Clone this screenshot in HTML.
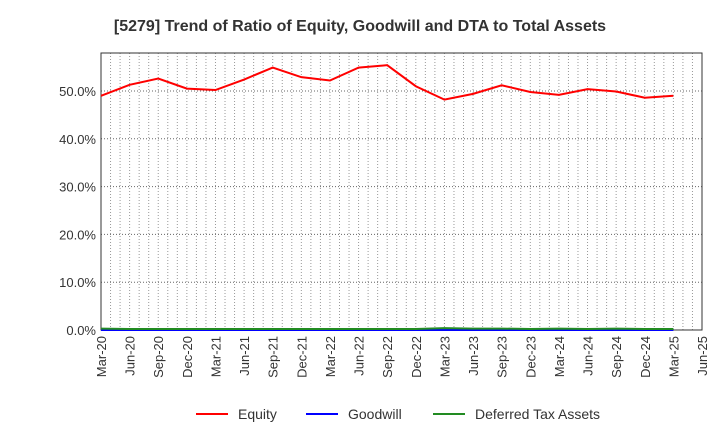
<!DOCTYPE html>
<html><head><meta charset="utf-8"><style>
body{margin:0;background:#fff;font-family:"Liberation Sans",sans-serif}
</style></head><body>
<svg id="c" width="720" height="440" xmlns="http://www.w3.org/2000/svg" font-family="Liberation Sans, sans-serif">
<text x="360" y="31" text-anchor="middle" font-size="16" font-weight="bold" fill="#333">[5279]  Trend of Ratio of Equity, Goodwill and DTA to Total Assets</text>
<g id="grid"></g><g id="axes"></g><g id="series"></g>
<g font-size="14" fill="#333">
<line x1="196" y1="414" x2="228" y2="414" stroke="#f00" stroke-width="2"/><text x="238" y="419">Equity</text>
<line x1="306" y1="414" x2="338" y2="414" stroke="#00f" stroke-width="2"/><text x="348" y="419">Goodwill</text>
<line x1="433" y1="414" x2="465" y2="414" stroke="#228b22" stroke-width="2"/><text x="475" y="419">Deferred Tax Assets</text>
</g>
</svg>
<script>
const categories=["Mar-20","Jun-20","Sep-20","Dec-20","Mar-21","Jun-21","Sep-21","Dec-21","Mar-22","Jun-22","Sep-22","Dec-22","Mar-23","Jun-23","Sep-23","Dec-23","Mar-24","Jun-24","Sep-24","Dec-24","Mar-25","Jun-25"];
const equity=[49.0,51.3,52.6,50.5,50.2,52.4,54.9,52.9,52.2,54.9,55.4,51.0,48.2,49.4,51.2,49.8,49.2,50.4,49.9,48.6,49.0];
const goodwill=[0,0,0,0,0,0,0,0,0,0,0,0,0,0,0,0,0,0,0,0,0];
const dta=[0.3,0.2,0.2,0.2,0.2,0.2,0.2,0.2,0.2,0.2,0.2,0.2,0.4,0.3,0.3,0.2,0.3,0.2,0.3,0.2,0.2];
const yTicks=[0,10,20,30,40,50];
const L=101,R=702,T=53,B=330;
const x=i=>L+i*(R-L)/(categories.length-1);
const y=v=>B-v*(B-91)/50;
const NS="http://www.w3.org/2000/svg";
function mk(t,a,p){const e=document.createElementNS(NS,t);for(const k in a)e.setAttribute(k,a[k]);p.appendChild(e);return e;}
const g=document.getElementById('grid'),ax=document.getElementById('axes'),s=document.getElementById('series');
for(let m=1;m<(categories.length-1)*3;m++){const xx=L+m*(R-L)/((categories.length-1)*3);
const ln=mk('line',{x1:xx,x2:xx,y1:T,y2:B,stroke:'#999','stroke-dasharray':'1,2','stroke-width':1},g);

}
yTicks.forEach(v=>{if(v>0){const ln=mk('line',{x1:L,x2:R,y1:y(v),y2:y(v),stroke:'#666','stroke-dasharray':'1,2'},g);

}
const t=mk('text',{x:L-5,y:y(v)+5,'text-anchor':'end','font-size':13,fill:'#333'},ax);t.textContent=v.toFixed(1)+'%';

});
const fr=mk('rect',{x:L,y:T,width:R-L,height:B-T,fill:'none',stroke:'#333'},ax);


categories.forEach((c,i)=>{const t=mk('text',{transform:`translate(${x(i)+5},${B+6}) rotate(-90)`,'text-anchor':'end','font-size':13,fill:'#333'},ax);t.textContent=c;

});
function line(d,col,name){const p=mk('polyline',{points:d.map((v,i)=>x(i)+','+y(v)).join(' '),fill:'none',stroke:col,'stroke-width':2},s);

}
line(goodwill,'#00f','goodwill-line');line(dta,'#228b22','dta-line');line(equity,'#f00','equity-line');
</script>
</body></html>
